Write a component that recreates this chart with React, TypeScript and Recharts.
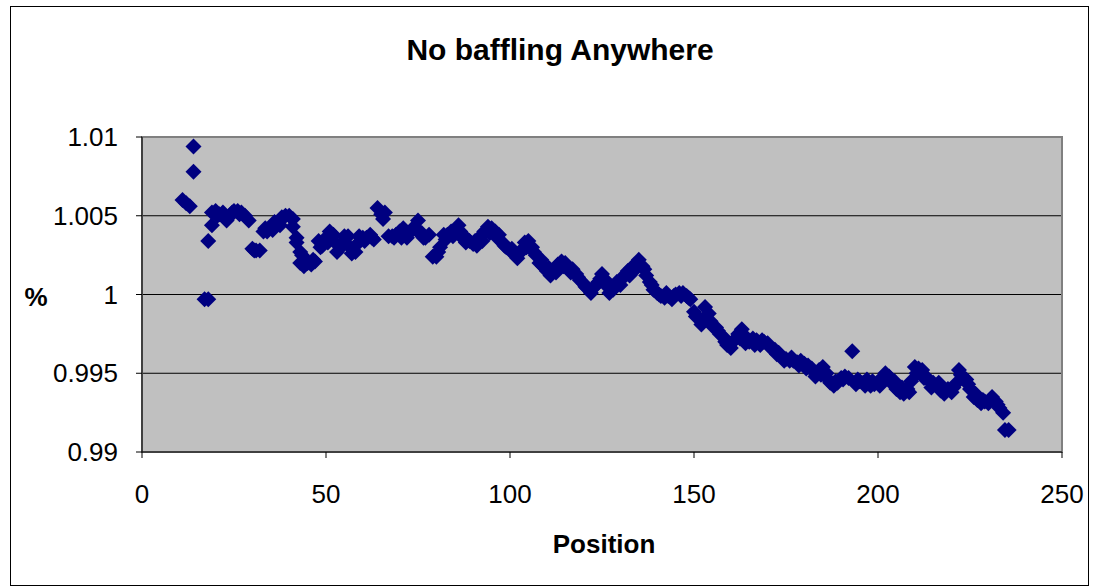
import React from 'react';
import {
  ScatterChart,
  Scatter,
  XAxis,
  YAxis,
  CartesianGrid,
  ReferenceArea,
} from 'recharts';

// readings, one per marker
const position = [
  11, 12, 13, 14, 14, 17, 18, 18, 19, 19, 20, 21, 22, 23, 24, 25, 26, 27, 28, 29,
  30, 31, 32, 33, 34, 35, 36, 37, 38, 39, 40, 41, 41, 42, 42, 43, 43, 44, 45, 46,
  47, 48, 49, 50, 51, 52, 53, 54, 55, 56, 57, 58, 59, 60, 61, 62, 63, 64, 65, 66,
  67, 68, 69, 70, 71, 72, 73, 74, 75, 76, 77, 78, 79, 80, 81, 82, 83, 84, 85, 86,
  87, 88, 89, 90, 91, 92, 93, 94, 95, 96, 97, 98, 99, 100, 101, 102, 103, 104, 105, 106,
  107, 108, 109, 110, 111, 112, 113, 114, 115, 116, 117, 118, 119, 120, 121, 122, 123, 124, 125, 126,
  127, 128, 129, 130, 131, 132, 133, 134, 135, 136, 137, 138, 139, 140, 141, 142, 143, 144, 145, 146,
  147, 148, 149, 150, 151, 152, 153, 154, 155, 156, 157, 158, 159, 160, 161, 162, 163, 164, 165, 166,
  167, 168, 169, 170, 171, 172, 173, 174, 175, 176, 177, 178, 179, 180, 181, 182, 183, 184, 185, 186,
  187, 188, 189, 190, 191, 192, 193, 194, 195, 196, 197, 198, 199, 200, 201, 202, 203, 204, 205, 206,
  207, 208, 209, 210, 211, 212, 213, 214, 215, 216, 217, 218, 219, 220, 221, 222, 223, 224, 225, 226,
  227, 228, 229, 230, 231, 232, 233, 234, 234.5, 235.5,
];

const ratio = [
  1.006, 1.0058, 1.0056, 1.0094, 1.0078, 0.9997, 0.9997, 1.0034, 1.0044, 1.0052, 1.0053, 1.0051, 1.0052, 1.0047, 1.005, 1.0053, 1.0053, 1.0052, 1.005, 1.0047,
  1.0029, 1.0028, 1.0028, 1.004, 1.004, 1.0043, 1.0046, 1.0046, 1.0049, 1.005, 1.005, 1.0048, 1.0043, 1.0036, 1.0033, 1.0027, 1.002, 1.0018, 1.002, 1.0019,
  1.0021, 1.0034, 1.0031, 1.0036, 1.004, 1.0038, 1.0027, 1.003, 1.0037, 1.0037, 1.0026, 1.0027, 1.0037, 1.0036, 1.0036, 1.0038, 1.0035, 1.0055, 1.0051, 1.0052,
  1.0037, 1.0037, 1.0038, 1.004, 1.0042, 1.0036, 1.004, 1.0043, 1.0047, 1.0039, 1.0036, 1.0038, 1.0024, 1.0024, 1.003, 1.0038, 1.0038, 1.004, 1.0041, 1.0044,
  1.0036, 1.0033, 1.0034, 1.0032, 1.0031, 1.0037, 1.004, 1.0043, 1.0042, 1.004, 1.0038, 1.0033, 1.003, 1.0028, 1.0026, 1.0023, 1.0028, 1.0033, 1.0034, 1.003,
  1.0025, 1.002, 1.0018, 1.0015, 1.0012, 1.0016, 1.0019, 1.0021, 1.002, 1.0017, 1.0016, 1.0013, 1.0009, 1.0007, 1.0004, 1.0001, 1.0005, 1.0008, 1.0013, 1.0009,
  1.0001, 1.0003, 1.0008, 1.0006, 1.0012, 1.0015, 1.0017, 1.0019, 1.0022, 1.0018, 1.0012, 1.0008, 1.0003, 1.0001, 0.9999, 0.9998, 0.9999, 0.9997, 1.0, 1.0001,
  1.0001, 0.9999, 0.9997, 0.9989, 0.9986, 0.9981, 0.9992, 0.9988, 0.998, 0.9979, 0.9975, 0.9973, 0.9968, 0.9966, 0.9971, 0.9975, 0.9978, 0.9969, 0.997, 0.9972,
  0.9971, 0.9968, 0.997, 0.9969, 0.9966, 0.9965, 0.9963, 0.996, 0.9959, 0.9958, 0.9958, 0.9957, 0.9958, 0.9956, 0.9955, 0.9953, 0.9948, 0.9952, 0.9954, 0.995,
  0.9944, 0.9942, 0.9944, 0.9947, 0.9948, 0.9947, 0.9964, 0.9943, 0.9945, 0.9944, 0.9946, 0.9942, 0.9943, 0.9944, 0.9947, 0.995, 0.9948, 0.9943, 0.994, 0.9938,
  0.9937, 0.994, 0.9945, 0.9954, 0.9953, 0.9952, 0.9948, 0.9945, 0.9944, 0.9942, 0.9939, 0.9937, 0.994, 0.9938, 0.9943, 0.9952, 0.9948, 0.9946, 0.994, 0.9935,
  0.9933, 0.9931, 0.9932, 0.9931, 0.9935, 0.9932, 0.9928, 0.9925, 0.9914, 0.9914,
];

// second edge of the band, where markers overlap
const extraPosition = [
  20.5, 22.5, 24.5, 26.5, 30.5, 33.5, 35.5, 37.5, 43.5, 44.5, 46.5, 48.5, 50.5, 52.5, 54.5, 56.5, 58.5, 60.5, 62.5, 65.5,
  68.5, 70.5, 72.5, 74.5, 76.5, 80.5, 82.5, 84.5, 86.5, 88.5, 90.5, 92.5, 94.5, 96.5, 98.5, 100.5, 102.5, 104.5, 106.5, 108.5,
  110.5, 112.5, 114.5, 116.5, 118.5, 120.5, 122.5, 124.5, 126.5, 128.5, 130.5, 132.5, 134.5, 136.5, 138.5, 140.5, 142.5, 144.5, 146.5, 148.5,
  150.5, 152.5, 154.5, 156.5, 158.5, 160.5, 162.5, 164.5, 166.5, 168.5, 170.5, 172.5, 174.5, 176.5, 178.5, 180.5, 182.5, 184.5, 186.5, 188.5,
  190.5, 194.5, 196.5, 198.5, 200.5, 202.5, 204.5, 206.5, 208.5, 210.5, 212.5, 214.5, 216.5, 218.5, 220.5, 222.5, 224.5, 226.5, 228.5, 230.5,
  232.5,
];

const extraRatio = [
  1.005, 1.0049, 1.0052, 1.0051, 1.0028, 1.0042, 1.0041, 1.0044, 1.0025, 1.0022, 1.0022, 1.003, 1.0033, 1.0033, 1.0032, 1.003, 1.0032, 1.0034, 1.0036, 1.0048,
  1.0036, 1.0036, 1.0039, 1.0041, 1.0036, 1.0027, 1.0035, 1.0037, 1.004, 1.0035, 1.0034, 1.0034, 1.0039, 1.0036, 1.0031, 1.0029, 1.0026, 1.003, 1.0027, 1.0022,
  1.0017, 1.0014, 1.0018, 1.0014, 1.0011, 1.0005, 1.0004, 1.001, 1.0005, 1.0005, 1.001, 1.0012, 1.0017, 1.0016, 1.0006, 1.0, 1.0001, 0.9999, 0.9999, 0.9998,
  0.9986, 0.9984, 0.9983, 0.9977, 0.997, 0.997, 0.9972, 0.9972, 0.9968, 0.9971, 0.9967, 0.9962, 0.9958, 0.996, 0.9955, 0.9953, 0.9951, 0.9949, 0.9946, 0.9945,
  0.9946, 0.9946, 0.9942, 0.9945, 0.9942, 0.9947, 0.9945, 0.9941, 0.9938, 0.995, 0.9947, 0.9941, 0.9944, 0.9939, 0.9941, 0.9949, 0.9943, 0.9937, 0.9933, 0.9933,
  0.993,
];

const xTicks = [0, 50, 100, 150, 200, 250];
const yTicks = [0.99, 0.995, 1, 1.005, 1.01];
const yTickLabels = ['0.99', '0.995', '1', '1.005', '1.01'];

const data = [
  ...position.map((p, i) => ({ position: p, ratio: ratio[i] })),
  ...extraPosition.map((p, i) => ({ position: p, ratio: extraRatio[i] })),
];

const font = 'Arial, "Liberation Sans", sans-serif';

const Diamond = (props: any) => {
  const { cx, cy } = props;
  if (cx == null || cy == null) return null;
  const r = 8;
  return (
    <polygon
      points={`${cx},${cy - r} ${cx + r},${cy} ${cx},${cy + r} ${cx - r},${cy}`}
      fill="#000080"
    />
  );
};

const App = () => {
  return (
    <div style={{ position: 'absolute', left: 0, top: 0, width: 1093, height: 588, background: '#fff' }}>
      <div
        style={{
          position: 'absolute',
          left: 10,
          top: 6,
          width: 1077,
          height: 578,
          border: '1px solid #000',
        }}
      />
      <ScatterChart
        width={1093}
        height={588}
        margin={{ top: 137, right: 31, bottom: 76, left: 82 }}
        style={{ position: 'absolute', left: 0, top: 0 }}
      >
        <CartesianGrid vertical={false} stroke="#000" fill="#C0C0C0" fillOpacity={1} />
        <ReferenceArea
          x1={0}
          x2={250}
          y1={0.99}
          y2={1.01}
          fill="none"
          stroke="#808080"
          strokeWidth={2}
          ifOverflow="visible"
        />
        <XAxis
          type="number"
          dataKey="position"
          domain={[0, 250]}
          ticks={xTicks}
          height={60}
          tickSize={6}
          tickMargin={27}
          stroke="#000"
          tick={{ fontSize: 26, fill: '#000', fontFamily: font }}
        />
        <YAxis
          type="number"
          dataKey="ratio"
          domain={[0.99, 1.01]}
          ticks={yTicks}
          width={60}
          tickSize={6}
          tickMargin={18}
          stroke="#000"
          tickFormatter={(v: number) => yTickLabels[yTicks.indexOf(v)] ?? String(v)}
          tick={{ fontSize: 26, fill: '#000', fontFamily: font }}
        />
        <Scatter data={data} shape={Diamond} isAnimationActive={false} />
      </ScatterChart>
      <div
        style={{
          position: 'absolute',
          left: 0,
          width: 1120,
          top: 33,
          textAlign: 'center',
          fontFamily: font,
          fontWeight: 'bold',
          fontSize: 30,
          lineHeight: '34px',
        }}
      >
        No baffling Anywhere
      </div>
      <div
        style={{
          position: 'absolute',
          left: 16,
          width: 40,
          top: 281,
          textAlign: 'center',
          fontFamily: font,
          fontWeight: 'bold',
          fontSize: 26,
          lineHeight: '32px',
        }}
      >
        %
      </div>
      <div
        style={{
          position: 'absolute',
          left: 504,
          width: 200,
          top: 528,
          textAlign: 'center',
          fontFamily: font,
          fontWeight: 'bold',
          fontSize: 26,
          lineHeight: '32px',
        }}
      >
        Position
      </div>
    </div>
  );
};

export default App;
